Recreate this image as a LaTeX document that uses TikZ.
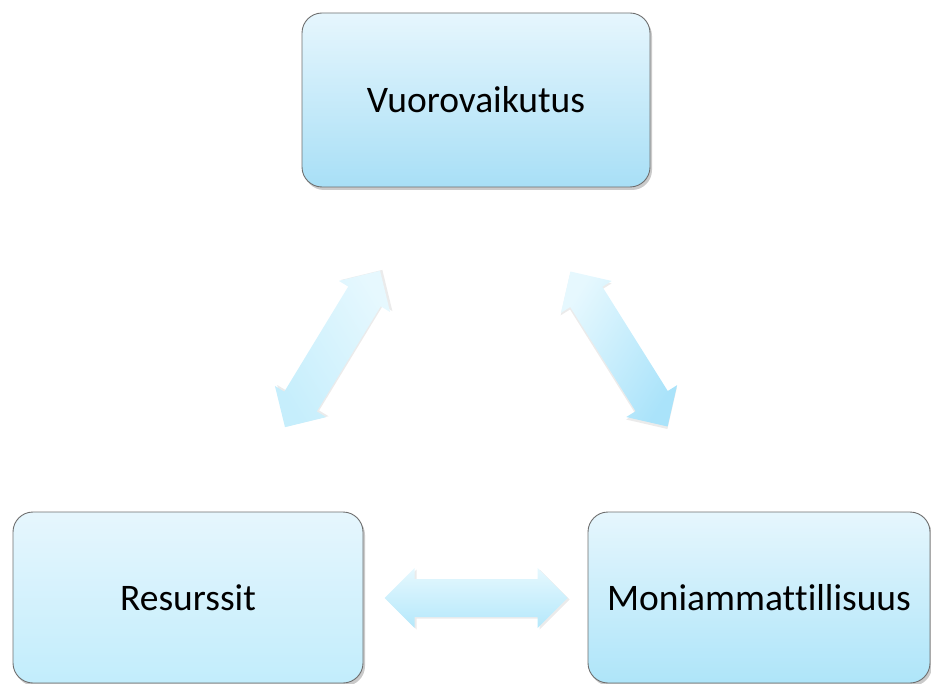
\documentclass[tikz,border=0pt]{standalone}
\usepackage{fontspec}
\setmainfont[RawFeature={-liga;-clig;-calt;-dlig}]{Carlito}
\usetikzlibrary{shadows}
\definecolor{boxtop}{RGB}{230,246,253}
\definecolor{boxbot}{RGB}{168,223,246}
\definecolor{boxbotL}{RGB}{194,237,252}
\definecolor{boxbotR}{RGB}{174,229,249}
\definecolor{arrtop}{RGB}{230,248,254}
\definecolor{arrbot}{RGB}{180,232,251}
\definecolor{arrbotL}{RGB}{198,238,252}
\definecolor{arrbotR}{RGB}{170,227,250}
\definecolor{edgegray}{RGB}{110,110,110}
\tikzset{
  box/.style={draw=edgegray, line width=0.9pt, rounded corners=20pt,
    top color=boxtop, bottom color=boxbot,
    drop shadow={shadow xshift=2pt, shadow yshift=-3pt, opacity=0.35, fill=black!60},
    font=\fontsize{37.5}{44}\selectfont, text=black, inner sep=0pt},
  blockarrow/.pic={
    \fill[black, opacity=0.08] (-89.5,1.5) -- (-59.5,-28.5) -- (-59.5,-17.5) -- (63.5,-17.5) -- (63.5,-28.5) -- (93.5,1.5) -- (63.5,31.5) -- (63.5,20.5) -- (-59.5,20.5) -- (-59.5,31.5) -- cycle;
    \shade[top color=arrtop, bottom color=arrbot, shading angle=#1]
      (-91.5,0) -- (-61.5,-30) -- (-61.5,-19) -- (61.5,-19) -- (61.5,-30) -- (91.5,0)
      -- (61.5,30) -- (61.5,19) -- (-61.5,19) -- (-61.5,30) -- cycle;
  }
}
\begin{document}
\begin{tikzpicture}[x=1pt,y=-1pt]
\useasboundingbox (0,0) rectangle (931,684);
\node[box, minimum width=348pt, minimum height=174pt] (vuoro) at (476,100) {Vuorovaikutus};
\node[box, bottom color=boxbotL, minimum width=350pt, minimum height=171pt] (resu) at (188,597.5) {Resurssit};
\node[box, bottom color=boxbotR, minimum width=342pt, minimum height=171pt] (moni) at (759,597.5) {Moniammat\kern0pt tillisuus};
\begin{scope}
\colorlet{arrbot}{arrbotL}
\pic[rotate=58.7] at (332.5,349) {blockarrow=-58.7};
\end{scope}
\begin{scope}
\colorlet{arrbot}{arrbotR}
\pic[rotate=-57.9] at (619,349) {blockarrow=57.9};
\end{scope}
\pic at (476,598) {blockarrow=0};
\end{tikzpicture}
\end{document}
